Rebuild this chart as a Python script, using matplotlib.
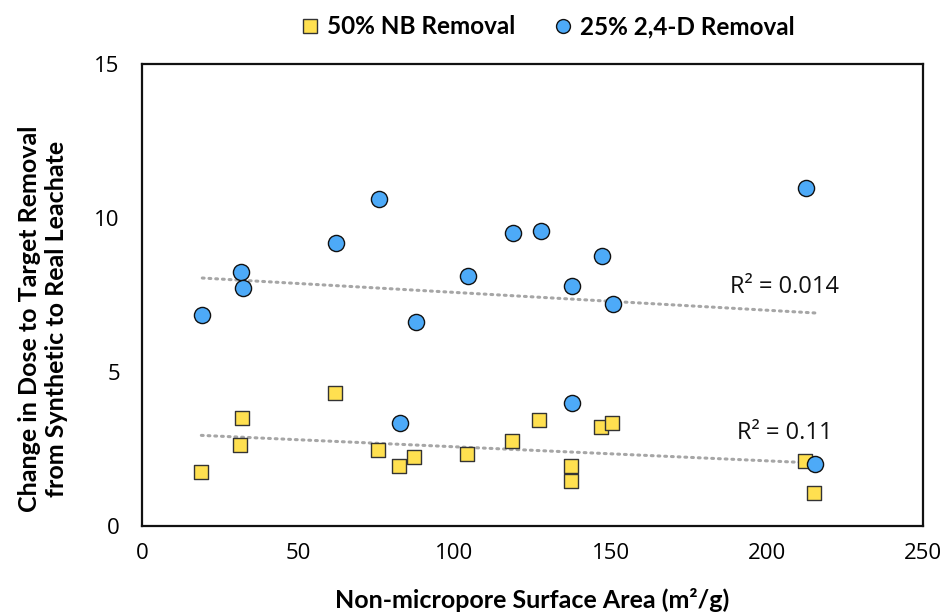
import numpy as np
import matplotlib
matplotlib.use("Agg")
import matplotlib.pyplot as plt
from matplotlib.lines import Line2D

plt.rcParams['font.family'] = ['Lato', 'DejaVu Sans']

nb_x = [19.0, 31.3, 32.0, 61.8, 75.6, 82.2, 87.2, 103.9, 118.4, 127.2, 137.3, 137.3, 146.8, 150.4, 212.3, 215.1]
nb_y = [1.74, 2.62, 3.50, 4.31, 2.47, 1.96, 2.25, 2.33, 2.77, 3.43, 1.96, 1.45, 3.20, 3.35, 2.11, 1.08]

d_x = [19.3, 31.6, 32.4, 62.2, 76.0, 82.5, 87.6, 104.4, 118.9, 127.6, 137.7, 137.7, 147.2, 150.9, 212.6, 215.5]
d_y = [6.85, 8.26, 7.74, 9.20, 10.61, 3.33, 6.62, 8.11, 9.50, 9.58, 7.80, 3.98, 8.76, 7.22, 10.96, 2.00]

series_labels = ["50% NB Removal", "25% 2,4-D Removal"]
r2_labels = ["R² = 0.11", "R² = 0.014"]
x_ticks = [0, 50, 100, 150, 200, 250]
y_ticks = [0, 5, 10, 15]

W, H = 945, 613
fig = plt.figure(figsize=(W/100, H/100), dpi=100)
ax = fig.add_axes([142/W, (H-526)/H, (923-142)/W, (526-64)/H])

yellow = '#FFE050'
blue = '#4DAAF8'
trend = '#A6A6A6'

def trendline(xs, ys):
    xs = np.asarray(xs); ys = np.asarray(ys)
    m, b = np.polyfit(xs, ys, 1)
    xx = np.array([xs.min(), xs.max()])
    ax.plot(xx, m*xx + b, linestyle=(0, (0.6, 1.6)), color=trend, lw=2.2,
            dash_capstyle='round', zorder=2)

trendline(nb_x, nb_y)
trendline(d_x, d_y)

ax.scatter(nb_x, nb_y, marker='s', s=100, color=yellow, edgecolor='#333333',
           linewidth=1.0, zorder=3)
ax.scatter(d_x, d_y, marker='o', s=135, color=blue, edgecolor='#111111',
           linewidth=1.0, zorder=4)

ofam = ['Open Sans', 'DejaVu Sans']
ax.text(190.5, 3.02, r2_labels[0], fontsize=17, color='#111111', ha='left', va='center', family=ofam)
ax.text(188.2, 7.76, r2_labels[1], fontsize=17, color='#111111', ha='left', va='center', family=ofam)

ax.set_xlim(0, 250)
ax.set_ylim(0, 15)
ax.set_xticks(x_ticks)
ax.set_yticks(y_ticks)
ax.tick_params(length=0, labelsize=16)
ax.tick_params(axis='x', pad=12)
ax.tick_params(axis='y', pad=16)
for lab in ax.get_xticklabels() + ax.get_yticklabels():
    lab.set_family(ofam)
for sp in ax.spines.values():
    sp.set_linewidth(1.6)
    sp.set_color('#111111')

ax.set_xlabel("Non-micropore Surface Area (m²/g)", fontsize=18, fontweight='bold')
ax.set_ylabel("Change in Dose to Target Removal\nfrom Synthetic to Real Leachate", fontsize=18,
              fontweight='bold', linespacing=1.2)
ax.xaxis.set_label_coords(0.5, -0.134)
ax.yaxis.set_label_coords(-0.095, 0.448)

handles = [
    Line2D([], [], marker='s', linestyle='None', markersize=9.5, markerfacecolor=yellow,
           markeredgecolor='#333333', markeredgewidth=1.0),
    Line2D([], [], marker='o', linestyle='None', markersize=10, markerfacecolor=blue,
           markeredgecolor='#111111', markeredgewidth=1.0),
]
leg = fig.legend(handles, series_labels, loc='center', bbox_to_anchor=(546/W, 1-27/H), ncol=2,
                 frameon=False, handletextpad=0.2, columnspacing=1.45, handlelength=1.0,
                 prop={'weight': 'bold', 'size': 17.5})

fig.savefig('out.png', dpi=100)
